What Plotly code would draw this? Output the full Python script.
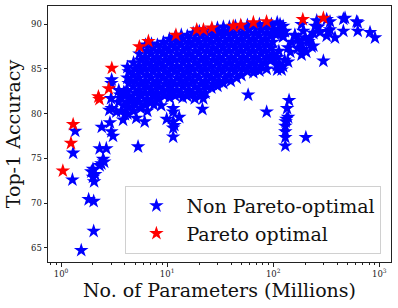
import plotly.graph_objects as go

# ---- data (params in millions, top-1 accuracy in %) ----
pareto_params = [1.04, 1.24, 1.30, 2.25, 2.30, 2.82, 3.01, 5.47, 6.66, 12.1,
                 19.0, 22.0, 26.4, 42.0, 49.4, 65.0, 86.5, 190, 297]
pareto_acc = [73.6, 76.7, 78.8, 81.9, 81.6, 82.8, 85.1, 87.5, 88.1, 88.8,
              89.4, 89.4, 89.6, 89.8, 89.9, 90.2, 90.3, 90.55, 90.7]

nonpareto_params = [
    # sparse small models
    1.55, 2.03, 1.82, 2.03, 1.28, 1.30, 1.36, 2.10, 2.05, 2.00, 1.93, 2.00, 2.31, 2.40, 2.49, 2.55,
    2.31, 2.67, 5.32, 2.42, 2.89, 2.98, 3.09, 2.85, 3.00, 3.32, 2.96, 2.98, 3.00, 3.84, 5.12, 6.14,
    3.98, 4.60, 6.50,
    # sparse mid / lower edge
    9.9, 11.4, 11.4, 13.0, 11.4, 11.7, 11.4, 11.4, 21.5, 58, 21.9, 15.3, 10.6, 8.25, 7.1, 7.5,
    8.8, 3.5, 3.6, 3.9, 3.7, 3.5, 3.9, 3.7, 4.0,
    # large models, low accuracy
    86.7, 141, 135, 138, 131, 133, 130, 130, 130, 130, 203, 297,
    # large models, upper cluster
    116, 124, 129, 104, 160, 185, 192, 199, 214, 239, 192, 185, 222, 248, 257, 319,
    343, 319, 382, 458, 458, 276, 626, 626, 817, 910, 172, 138, 475, 611, 330, 266,
    239, 185, 230, 160, 138, 120, 108, 96.8, 343, 150, 170, 145, 205,
    # dense region
    4.22, 4.34, 4.22, 4.34, 4.22, 4.34, 4.22, 4.34, 4.22,
    4.82, 4.96, 4.82, 4.96, 4.82, 4.96, 4.82, 4.96, 4.82,
    5.48, 5.62, 5.48, 5.62, 5.48, 5.62, 5.48, 5.62, 5.48, 5.62,
    6.25, 6.42, 6.25, 6.42, 6.25, 6.42, 6.25, 6.42, 6.25, 6.42, 6.25,
    7.12, 7.30, 7.12, 7.30, 7.12, 7.30, 7.12, 7.30, 7.12, 7.30, 7.12,
    8.10, 8.32, 8.10, 8.32, 8.10, 8.32, 8.10, 8.32, 8.10, 8.32,
    9.22, 9.48, 9.22, 9.48, 9.22, 9.48, 9.22, 9.48, 9.22, 9.48,
    10.5, 10.8, 10.5, 10.8, 10.5, 10.8, 10.5, 10.8, 10.5, 10.8, 10.5,
    11.9, 12.3, 11.9, 12.3, 11.9, 12.3, 11.9, 12.3, 11.9, 12.3, 11.9,
    13.6, 14.0, 13.6, 14.0, 13.6, 14.0, 13.6, 14.0, 13.6, 14.0, 13.6, 14.0,
    15.5, 15.9, 15.5, 15.9, 15.5, 15.9, 15.5, 15.9, 15.5, 15.9, 15.5,
    17.6, 18.2, 17.6, 18.2, 17.6, 18.2, 17.6, 18.2, 17.6, 18.2, 17.6, 18.2,
    20.1, 20.7, 20.1, 20.7, 20.1, 20.7, 20.1, 20.7, 20.1, 20.7, 20.1, 20.7,
    23.0, 23.6, 23.0, 23.6, 23.0, 23.6, 23.0, 23.6, 23.0, 23.6, 23.0,
    26.1, 26.9, 26.1, 26.9, 26.1, 26.9, 26.1, 26.9, 26.1, 26.9, 26.1,
    29.8, 30.6, 29.8, 30.6, 29.8, 30.6, 29.8, 30.6, 29.8, 30.6, 29.8,
    33.9, 34.9, 33.9, 34.9, 33.9, 34.9, 33.9, 34.9, 33.9, 34.9, 33.9,
    38.6, 39.8, 38.6, 39.8, 38.6, 39.8, 38.6, 39.8, 38.6, 39.8,
    44.0, 45.2, 44.0, 45.2, 44.0, 45.2, 44.0, 45.2, 44.0, 45.2,
    50.1, 51.5, 50.1, 51.5, 50.1, 51.5, 50.1, 51.5, 50.1,
    57.1, 58.7, 57.1, 58.7, 57.1, 58.7, 57.1, 58.7, 57.1,
    65.0, 66.8, 65.0, 66.8, 65.0, 66.8, 65.0, 66.8, 65.0,
    74.1, 76.1, 74.1, 76.1, 74.1, 76.1, 74.1, 76.1, 74.1,
    84.3, 86.7, 84.3, 86.7, 84.3, 86.7, 84.3, 86.7,
    96.0, 98.8, 96.0, 98.8, 96.0, 98.8, 96.0,
    109, 113, 109, 113, 109, 113, 109,
    124, 128, 124, 128, 124,
]
nonpareto_acc = [
    64.7, 66.85, 70.4, 70.2, 72.6, 75.6, 78.05, 73.2, 72.4, 72.9, 73.5, 73.8, 74.2, 74.4, 74.9, 74.6,
    76.1, 76.1, 76.3, 78.5, 79.0, 78.0, 77.5, 80.4, 80.6, 80.2, 81.7, 83.4, 83.8, 79.3, 79.5, 79.1,
    82.3, 81.5, 80.3,
    79.4, 80.6, 80.2, 79.6, 79.1, 78.7, 78.4, 77.4, 80.5, 82.1, 81.7, 82.0, 82.45, 81.7, 81.3, 81.0,
    80.9, 82.6, 82.1, 82.4, 81.7, 81.3, 80.9, 80.3, 79.9,
    80.2, 81.5, 80.6, 79.6, 79.1, 79.4, 78.0, 77.35, 76.4, 78.6, 77.35, 85.9,
    90.0, 88.7, 89.25, 88.9, 88.7, 90.0, 89.25, 88.5, 88.1, 87.6, 87.2, 86.6, 88.5, 89.8, 90.4, 90.55,
    89.4, 88.7, 88.5, 90.6, 89.25, 89.1, 90.2, 89.25, 89.1, 88.5, 88.3, 87.4, 90.7, 90.3, 89.2, 89.7,
    89.0, 87.8, 87.5, 88.8, 85.8, 84.9, 85.4, 86.4, 90.3, 88.0, 87.3, 86.9, 86.9,
    85.2, 84.7, 84.0, 83.4, 82.6, 81.9, 81.3, 80.7, 80.0,
    85.7, 85.0, 84.3, 83.6, 83.0, 82.3, 81.6, 81.0, 80.3,
    86.7, 86.0, 85.3, 84.7, 84.0, 83.3, 82.6, 82.0, 81.3, 80.6,
    87.7, 87.0, 86.3, 85.7, 85.0, 84.3, 83.6, 83.0, 82.3, 81.6, 81.0,
    87.8, 87.35, 86.7, 86.0, 85.3, 84.7, 84.0, 83.3, 82.6, 82.0, 81.3,
    87.7, 87.0, 86.3, 85.7, 85.0, 84.3, 83.6, 83.0, 82.3, 81.6,
    88.0, 87.35, 86.7, 86.0, 85.3, 84.7, 84.0, 83.3, 82.6, 82.0,
    88.35, 87.7, 87.0, 86.3, 85.7, 85.0, 84.3, 83.6, 83.0, 82.3, 81.8,
    88.6, 88.0, 87.35, 86.7, 86.0, 85.3, 84.7, 84.0, 83.3, 82.6, 82.0,
    88.8, 88.35, 87.7, 87.0, 86.3, 85.7, 85.0, 84.3, 83.6, 83.0, 82.3, 81.8,
    88.7, 88.0, 87.35, 86.7, 86.0, 85.3, 84.7, 84.0, 83.3, 82.6, 82.0,
    89.0, 88.35, 87.7, 87.0, 86.3, 85.7, 85.0, 84.3, 83.6, 83.0, 82.3, 81.7,
    89.2, 88.7, 88.0, 87.35, 86.7, 86.0, 85.3, 84.7, 84.0, 83.3, 82.6, 82.0,
    89.0, 88.35, 87.7, 87.0, 86.3, 85.7, 85.0, 84.3, 83.6, 83.0, 82.3,
    89.3, 88.7, 88.0, 87.35, 86.7, 86.0, 85.3, 84.7, 84.0, 83.3, 82.9,
    89.6, 89.0, 88.35, 87.7, 87.0, 86.3, 85.7, 85.0, 84.3, 83.6, 83.1,
    89.7, 89.2, 88.7, 88.0, 87.35, 86.7, 86.0, 85.3, 84.7, 84.0, 83.4,
    89.7, 89.0, 88.35, 87.7, 87.0, 86.3, 85.7, 85.0, 84.3, 83.65,
    89.8, 89.36, 88.7, 88.0, 87.35, 86.7, 86.0, 85.3, 84.7, 84.0,
    89.7, 89.0, 88.35, 87.7, 87.0, 86.3, 85.7, 85.0, 84.3,
    89.9, 89.36, 88.7, 88.0, 87.35, 86.7, 86.0, 85.3, 84.7,
    89.8, 89.0, 88.35, 87.7, 87.0, 86.3, 85.7, 85.0, 84.6,
    90.0, 89.36, 88.7, 88.0, 87.35, 86.7, 86.0, 85.3, 84.8,
    89.7, 89.0, 88.35, 87.7, 87.0, 86.3, 85.7, 85.0,
    90.0, 89.36, 88.7, 88.0, 87.35, 86.7, 86.0,
    90.2, 89.5, 88.9, 87.0, 86.3, 85.6, 84.9,
    89.8, 89.2, 88.6, 86.0, 85.3,
]
assert len(nonpareto_params) == len(nonpareto_acc), (len(nonpareto_params), len(nonpareto_acc))

x_tick_vals = [1, 10, 100, 1000]
x_tick_text = ["10<sup>0</sup>", "10<sup>1</sup>", "10<sup>2</sup>", "10<sup>3</sup>"]
y_tick_vals = [65, 70, 75, 80, 85, 90]

FONT = "DejaVu Serif"
minor_vals = [m * 10 ** e for e in range(-1, 3) for m in range(2, 10) if 0.75 < m * 10 ** e < 1290]

fig = go.Figure()
fig.add_trace(go.Scatter(
    x=nonpareto_params, y=nonpareto_acc, mode="markers", name="Non Pareto-optimal",
    legendgroup="a",
    marker=dict(symbol="star", size=11, color="#0000ff"),
))
fig.add_trace(go.Scatter(
    x=pareto_params, y=pareto_acc, mode="markers", name="Pareto optimal",
    legendgroup="b",
    marker=dict(symbol="star", size=11, color="#ff0000"),
))

axis_common = dict(
    showline=True, mirror=True, linecolor="#222", linewidth=1,
    ticks="outside", ticklen=3.5, tickwidth=0.8, tickcolor="#222",
    showgrid=False, zeroline=False, automargin=False,
    tickfont=dict(family=FONT, size=8.5, color="#222"),
)

fig.update_layout(
    width=398, height=308,
    margin=dict(l=48, r=7, t=6, b=46),
    plot_bgcolor="white", paper_bgcolor="white",
    font=dict(family=FONT, color="#111"),
    xaxis=dict(
        type="log", range=[-0.123, 3.110],
        tickmode="array", tickvals=x_tick_vals, ticktext=x_tick_text,
        minor=dict(tickmode="array", tickvals=minor_vals, ticks="outside",
                   ticklen=2, tickwidth=0.6, tickcolor="#222"),
        title=dict(text="No. of Parameters (Millions)", font=dict(family=FONT, size=19), standoff=3),
        **axis_common,
    ),
    yaxis=dict(
        range=[63.4, 92.05], tickmode="array", tickvals=y_tick_vals,
        title=dict(text="Top-1 Accuracy", font=dict(family=FONT, size=19), standoff=5),
        **axis_common,
    ),
    legend=dict(
        x=0.972, y=0.032, xanchor="right", yanchor="bottom",
        bordercolor="#d0d0d0", borderwidth=1, bgcolor="rgba(255,255,255,0.8)",
        font=dict(family=FONT, size=19, color="#111"),
        tracegroupgap=0, itemwidth=50,
    ),
    showlegend=True,
)

fig.write_html("out.html", config={"displayModeBar": False},
               post_script="document.body.style.margin='0px';")
